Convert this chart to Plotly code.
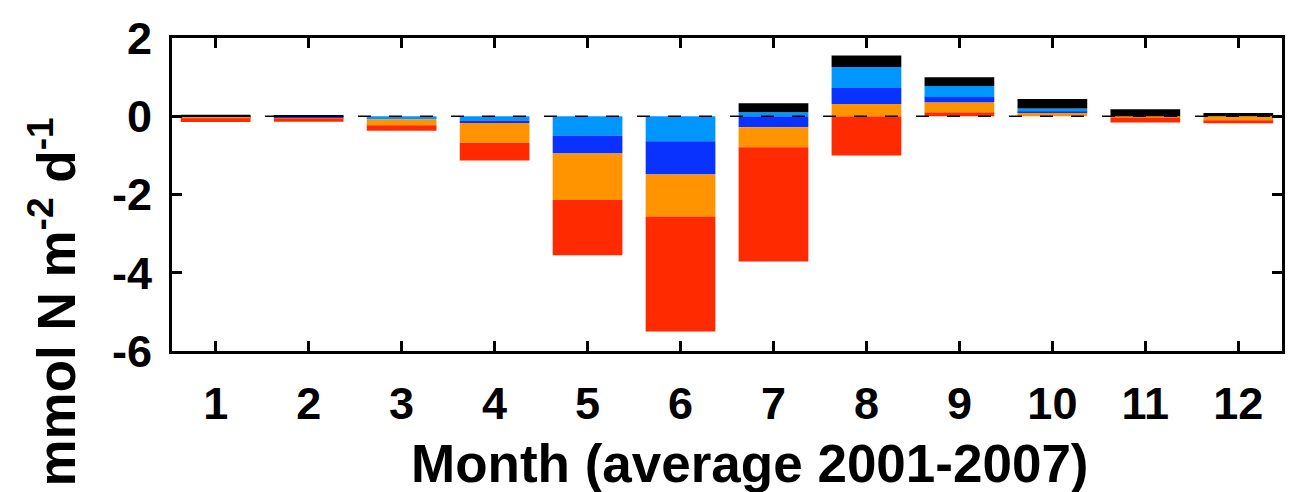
import plotly.graph_objects as go

months = list(range(1, 13))
tick_labels = [str(m) for m in months]

red       = [-0.10, -0.08, -0.14, -0.45, -1.41, -2.94, -2.92, -1.00, 0.10, 0.00, -0.12, -0.08]
orange    = [-0.02, -0.01, -0.15, -0.51, -1.19, -1.07, -0.51, 0.31, 0.26, 0.10, -0.04, -0.10]
blue      = [-0.03, -0.05, 0.00, -0.06, -0.46, -0.85, -0.28, 0.41, 0.13, 0.02, 0.00, 0.00]
lightblue = [0.00, 0.00, -0.08, -0.11, -0.49, -0.64, 0.10, 0.54, 0.28, 0.08, 0.00, 0.00]
black     = [0.04, 0.01, 0.00, 0.00, 0.00, 0.00, 0.23, 0.29, 0.23, 0.24, 0.18, 0.08]

series = {
    "red": (red, "#FF2A00"),
    "orange": (orange, "#FF9400"),
    "blue": (blue, "#0A32FF"),
    "lightblue": (lightblue, "#0096FF"),
    "black": (black, "#000000"),
}

FONT = "Liberation Sans Narrow, Arial Narrow, Liberation Sans, Arial, sans-serif"

fig = go.Figure()

# negative parts: stacked downward from zero, light blue nearest zero
for name in ["lightblue", "blue", "orange", "red"]:
    vals, col = series[name]
    fig.add_trace(go.Bar(x=months, y=[min(v, 0) for v in vals], width=0.75,
                         marker=dict(color=col, line=dict(width=0)),
                         name=name, showlegend=False, hoverinfo="skip"))
# positive parts: stacked upward, red at bottom
for name in ["red", "orange", "blue", "lightblue", "black"]:
    vals, col = series[name]
    fig.add_trace(go.Bar(x=months, y=[max(v, 0) for v in vals], width=0.75,
                         marker=dict(color=col, line=dict(width=0)),
                         name=name, showlegend=False, hoverinfo="skip"))

fig.add_shape(type="line", xref="paper", yref="y", x0=0, x1=1, y0=0, y1=0,
              line=dict(color="black", width=1.5, dash="13px,18px"), layer="above")

fig.add_annotation(text="Month (average 2001-2007)", xref="paper", yref="paper",
                   x=0.521, y=-0.361, xanchor="center", yanchor="middle", showarrow=False,
                   font=dict(family=FONT, size=53, weight="bold", color="black"))
fig.add_annotation(text="mmol N m<sup>-2</sup> d<sup>-1</sup>", xref="paper", yref="paper",
                   x=-0.108, y=0.155, xanchor="center", yanchor="middle", showarrow=False,
                   textangle=-90,
                   font=dict(family=FONT, size=53, weight="bold", color="black"))

# page body has an 8px margin, so the figure is 8px smaller than the window
fig.update_layout(
    barmode="relative",
    width=1290, height=484,
    margin=dict(l=164, r=16, t=30, b=141, autoexpand=False),
    plot_bgcolor="white", paper_bgcolor="white",
    font=dict(family=FONT, size=44, color="black", weight="bold"),
)
fig.update_xaxes(
    range=[0.53, 12.47], tickvals=months, ticktext=tick_labels,
    showgrid=False, zeroline=False, automargin=False,
    showline=True, linecolor="black", linewidth=3, mirror="ticks",
    ticks="inside", ticklen=10, tickwidth=3, tickcolor="black",
    ticklabelstandoff=11,
    tickfont=dict(family=FONT, size=45, weight="bold"),
)
fig.update_yaxes(
    range=[-6, 2], tickvals=[2, 0, -2, -4, -6], ticktext=["2", "0", "-2", "-4", "-6"],
    showgrid=False, zeroline=False, automargin=False,
    showline=True, linecolor="black", linewidth=3, mirror="ticks",
    ticks="inside", ticklen=10, tickwidth=3, tickcolor="black",
    ticklabelstandoff=8,
    tickfont=dict(family=FONT, size=45, weight="bold"),
)

fig.write_html("out.html")
